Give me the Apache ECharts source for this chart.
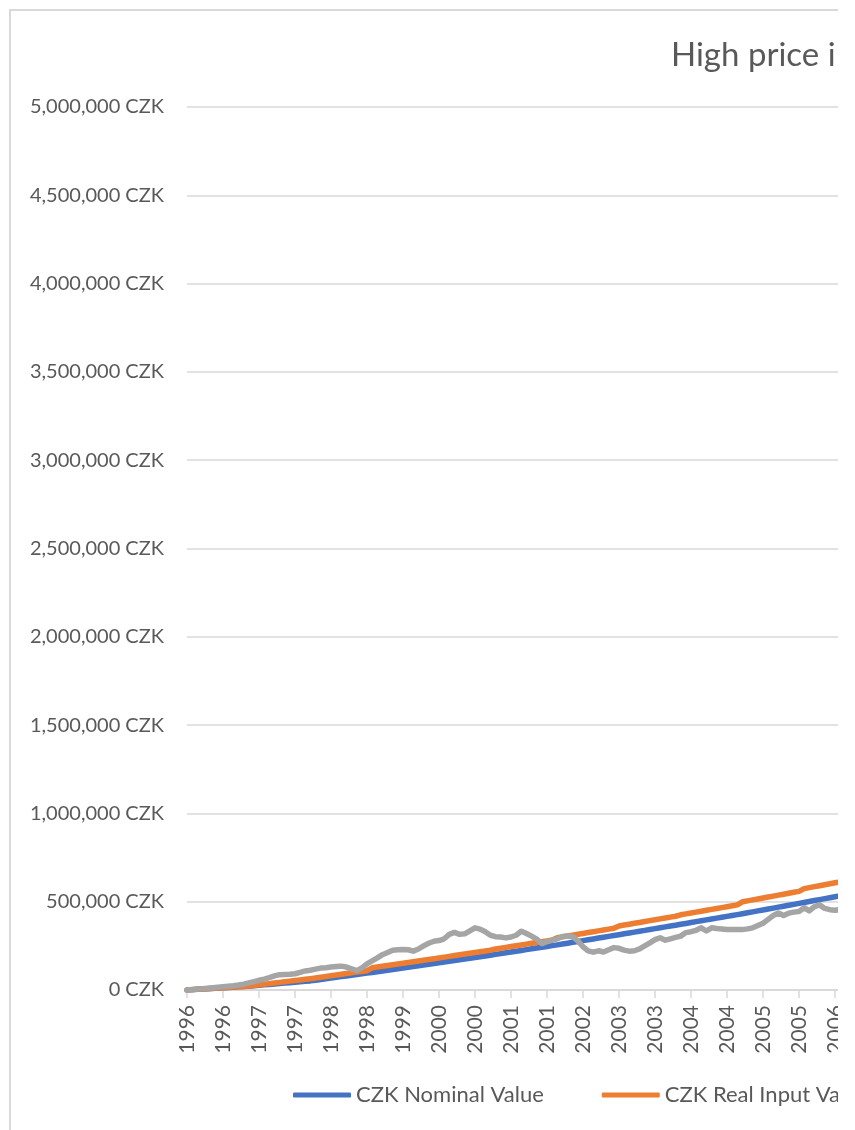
<!DOCTYPE html>
<html>
<head>
<meta charset="utf-8">
<title>High price i</title>
<script src="https://cdn.jsdelivr.net/npm/echarts@6/dist/echarts.min.js"></script>
<style>
  html, body { margin: 0; padding: 0; background: #fff; }
  #main { position: absolute; left: 0; top: 0; width: 838px; height: 1130px; }
  /* chart area frame, only left and top edges are visible in the crop */
  .frame {
    position: absolute; left: 9px; top: 9px; width: 829px; height: 1121px;
    border-left: 2px solid #d9d9d9; border-top: 2px solid #d9d9d9;
    box-sizing: border-box; pointer-events: none;
  }
</style>
</head>
<body>
<div id="main"></div>
<div class="frame"></div>
<script>
// monthly points, Jan 1996 .. Dec 2006
var years = [1996, 1997, 1998, 1999, 2000, 2001, 2002, 2003, 2004, 2005, 2006];
var months = [];
for (var y of years) {
  for (var m = 1; m <= 12; m++) {
    months.push(y + '-' + (m < 10 ? '0' + m : m));
  }
}

var nominalValue = [
  0, 1800, 3600, 5400, 7200, 9000, 10800, 12600, 14400, 16200, 18000, 19800,
  21600, 24100, 26600, 29100, 31600, 34100, 36600, 39100, 41600, 44100, 46600, 49100,
  51600, 55600, 59600, 63600, 67600, 71600, 75600, 79600, 83600, 87600, 91600, 95600,
  99600, 103800, 108000, 112200, 116400, 120600, 124800, 129000, 133200, 137400, 141600, 145800,
  150000, 154300, 158600, 162900, 167200, 171500, 175800, 180100, 184400, 188700, 193000, 197300,
  201600, 206100, 210600, 215100, 219600, 224100, 228600, 233100, 237600, 242100, 246600, 251100,
  255600, 260400, 265200, 270000, 274800, 279600, 284400, 289200, 294000, 298800, 303600, 308400,
  313200, 318100, 323000, 327900, 332800, 337700, 342600, 347500, 352400, 357300, 362200, 367100,
  372000, 377000, 382000, 387000, 392000, 397000, 402000, 407000, 412000, 417000, 422000, 427000,
  432000, 437300, 442600, 447900, 453200, 458500, 463800, 469100, 474400, 479700, 485000, 490300,
  495600, 501000, 506400, 511800, 517200, 522600, 528000, 533400, 538800, 544200, 549600, 555000
];

var realInputValue = [
  0, 1850, 3700, 5550, 7400, 9250, 11100, 12950, 14800, 16650, 18500, 20350,
  22200, 25700, 29200, 32700, 36200, 39700, 43200, 46700, 50200, 53700, 57200, 60700,
  64200, 68300, 72400, 76500, 80600, 84700, 88800, 92900, 97000, 101100, 105200, 109300,
  125600, 129900, 134200, 138500, 142800, 147100, 151400, 155700, 160000, 164300, 168600, 172900,
  177300, 181700, 186100, 190500, 194900, 199300, 203700, 208100, 212500, 216900, 221300, 225700,
  232300, 236900, 241500, 246100, 250700, 255300, 259900, 264500, 269100, 273700, 278300, 282900,
  295800, 300700, 305600, 310500, 315400, 320300, 325200, 330100, 335000, 339900, 344800, 349700,
  362700, 367700, 372700, 377700, 382700, 387700, 392700, 397700, 402700, 407700, 412700, 417700,
  425800, 430900, 436000, 441100, 446200, 451300, 456400, 461500, 466600, 471700, 476800, 481900,
  499300, 504700, 510100, 515500, 520900, 526300, 531700, 537100, 542500, 547900, 553300, 558700,
  574200, 579700, 585200, 590700, 596200, 601700, 607200, 612700, 618200, 623700, 629200, 634700
];

var marketValue = [
  0, 2500, 5000, 7500, 10000, 12500, 15000, 18000, 21000, 24000, 28000, 33000,
  40000, 47000, 55000, 62000, 70000, 80000, 87000, 88000, 89000, 92000, 100000, 108000,
  112000, 118000, 124000, 126000, 130000, 133000, 135000, 130000, 120000, 110000, 125000, 148000,
  165000, 182000, 200000, 212000, 225000, 228000, 230000, 228000, 220000, 232000, 250000, 265000,
  276000, 280000, 290000, 315000, 326000, 315000, 318000, 335000, 352000, 345000, 330000, 310000,
  302000, 300000, 295000, 300000, 310000, 333000, 320000, 305000, 288000, 263000, 274000, 282000,
  290000, 303000, 306000, 302000, 278000, 245000, 222000, 214000, 222000, 215000, 228000, 240000,
  236000, 226000, 220000, 222000, 233000, 250000, 267000, 285000, 296000, 282000, 290000, 298000,
  305000, 325000, 330000, 338000, 352000, 334000, 352000, 348000, 346000, 343000, 343000, 343000,
  342000, 346000, 352000, 365000, 378000, 400000, 422000, 436000, 422000, 435000, 441000, 445000,
  466000, 448000, 472000, 482000, 462000, 455000, 452000, 455000, 460000, 465000, 470000, 475000
];

var textColor = '#595959';
var font = 'Lato';

var myChart = echarts.init(document.getElementById('main'));
myChart.setOption({
  animation: false,
  title: {
    text: 'High price i',
    left: 671,
    top: 39,
    padding: 0,
    textStyle: { fontFamily: font, fontSize: 33, fontWeight: 'normal', color: textColor }
  },
  legend: {
    left: 293,
    top: 1084,
    width: 1200,
    padding: 0,
    icon: 'roundRect',
    itemWidth: 58,
    itemHeight: 5,
    itemGap: 58,
    data: ['CZK Nominal Value', 'CZK Real Input Value'],
    textStyle: { fontFamily: font, fontSize: 22, color: textColor }
  },
  // the plot runs on past the right edge of the crop
  grid: { left: 187, top: 107, height: 883, width: 673.7, outerBoundsMode: 'none' },
  xAxis: {
    type: 'category',
    data: months,
    boundaryGap: false,
    axisLine: { lineStyle: { color: '#d9d9d9', width: 2 } },
    axisTick: { interval: 6, length: 8, lineStyle: { color: '#d9d9d9', width: 1.5 } },
    axisLabel: {
      interval: 6,
      rotate: 90,
      margin: 15,
      fontFamily: font,
      fontSize: 21,
      color: textColor,
      formatter: function (v) { return v.slice(0, 4); }
    }
  },
  yAxis: {
    type: 'value',
    min: 0,
    max: 5000000,
    interval: 500000,
    axisLine: { show: false },
    axisTick: { show: false },
    splitLine: { lineStyle: { color: '#d9d9d9', width: 1.5 } },
    axisLabel: {
      margin: 23,
      fontFamily: font,
      fontSize: 20,
      color: textColor,
      formatter: function (v) { return v.toLocaleString('en-US') + ' CZK'; }
    }
  },
  series: [
    {
      name: 'CZK Nominal Value',
      type: 'line',
      data: nominalValue,
      showSymbol: false,
      lineStyle: { color: '#4472C4', width: 5.5, cap: 'round', join: 'round' },
      itemStyle: { color: '#4472C4' }
    },
    {
      name: 'CZK Real Input Value',
      type: 'line',
      data: realInputValue,
      showSymbol: false,
      lineStyle: { color: '#ED7D31', width: 5.5, cap: 'round', join: 'round' },
      itemStyle: { color: '#ED7D31' }
    },
    {
      name: 'CZK Market Value',
      type: 'line',
      data: marketValue,
      showSymbol: false,
      lineStyle: { color: '#A5A5A5', width: 5.5, cap: 'round', join: 'round' },
      itemStyle: { color: '#A5A5A5' }
    }
  ]
});
</script>
</body>
</html>
